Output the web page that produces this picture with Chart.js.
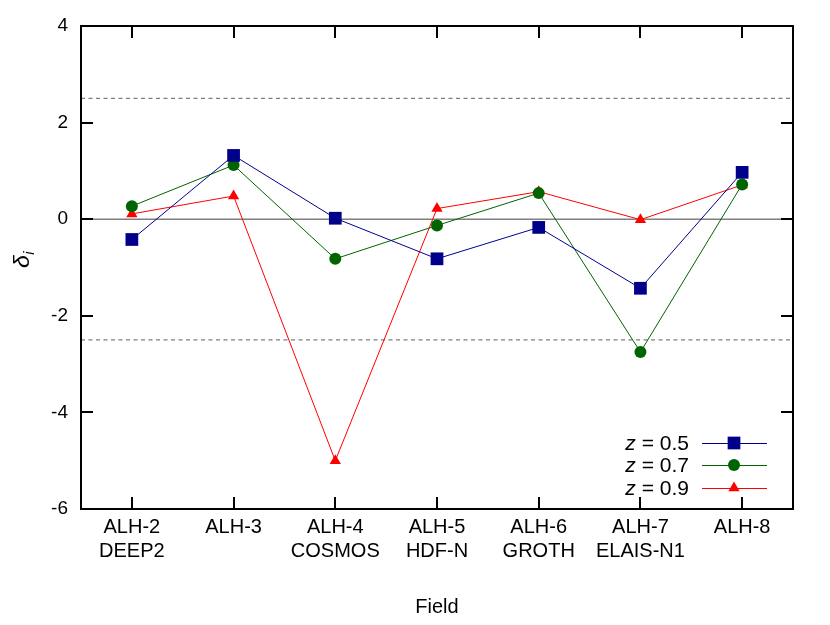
<!DOCTYPE html>
<html><head><meta charset="utf-8">
<script src="https://cdn.jsdelivr.net/npm/chart.js@4"></script>
<style>html,body{margin:0;padding:0;background:#fff}#wrap{width:830px;height:625px}</style>
</head><body><div id="wrap"><canvas id="c" width="830" height="625"></canvas></div>
<script>
const categories = [['ALH-2','DEEP2'],['ALH-3'],['ALH-4','COSMOS'],['ALH-5','HDF-N'],['ALH-6','GROTH'],['ALH-7','ELAIS-N1'],['ALH-8']];
const z05 = [-0.42, 1.32, 0.02, -0.82, -0.17, -1.43, 0.97];
const z07 = [0.27, 1.12, -0.82, -0.13, 0.54, -2.75, 0.72];
const z09 = [0.11, 0.48, -5.0, 0.22, 0.57, -0.01, 0.71];
const seriesLabels = ['0.5', '0.7', '0.9'];
const yTicks = [-6, -4, -2, 0, 2, 4];
const refLines = [2.5, -2.5];
const zeroLine = 0;

const FONT = "'Liberation Sans', Arial, sans-serif";

function drawMarker(ctx, style, x, y, r, color) {
  ctx.save();
  ctx.fillStyle = color;
  ctx.beginPath();
  if (style === 'rect') {
    const s = Math.SQRT1_2 * r;
    ctx.rect(x - s, y - s, 2 * s, 2 * s);
  } else if (style === 'circle') {
    ctx.arc(x, y, r, 0, Math.PI * 2);
  } else if (style === 'triangle') {
    let a = 0;
    ctx.moveTo(x + Math.sin(a) * r, y - Math.cos(a) * r);
    a += 2 * Math.PI / 3;
    ctx.lineTo(x + Math.sin(a) * r, y - Math.cos(a) * r);
    a += 2 * Math.PI / 3;
    ctx.lineTo(x + Math.sin(a) * r, y - Math.cos(a) * r);
    ctx.closePath();
  }
  ctx.fill();
  ctx.restore();
}

const framePlugin = {
  id: 'frame',
  beforeDatasetsDraw(chart) {
    const {ctx, chartArea: a, scales: {y}} = chart;
    ctx.save();
    ctx.strokeStyle = '#7f7f7f';
    ctx.lineWidth = 1.5;
    const y0 = y.getPixelForValue(zeroLine);
    ctx.beginPath(); ctx.moveTo(a.left, y0); ctx.lineTo(a.right, y0); ctx.stroke();
    ctx.lineWidth = 1.2;
    ctx.setLineDash([4, 3.5]);
    refLines.forEach(v => {
      const py = y.getPixelForValue(v);
      ctx.beginPath(); ctx.moveTo(a.left, py); ctx.lineTo(a.right, py); ctx.stroke();
    });
    ctx.restore();
  },
  afterDraw(chart) {
    const {ctx, chartArea: a, scales: {x, y}} = chart;
    ctx.save();
    ctx.strokeStyle = '#000';
    ctx.lineWidth = 2;
    const tl = 12;
    y.ticks.forEach(t => {
      const py = Math.round(y.getPixelForValue(t.value));
      ctx.beginPath();
      ctx.moveTo(a.left, py); ctx.lineTo(a.left + tl, py);
      ctx.moveTo(a.right, py); ctx.lineTo(a.right - tl, py);
      ctx.stroke();
    });
    categories.forEach((c, i) => {
      const px = Math.round(x.getPixelForValue(i));
      ctx.beginPath();
      ctx.moveTo(px, a.bottom); ctx.lineTo(px, a.bottom - tl);
      ctx.moveTo(px, a.top); ctx.lineTo(px, a.top + tl);
      ctx.stroke();
    });
    ctx.strokeRect(a.left, a.top, a.right - a.left, a.bottom - a.top);
    ctx.restore();

    // legend
    ctx.save();
    const textRight = a.right - 104;
    const lineL = a.right - 91, lineR = a.right - 26, mk = a.right - 59;
    const rows = [a.bottom - 66, a.bottom - 44, a.bottom - 21];
    chart.data.datasets.forEach((ds, i) => {
      const yy = rows[i];
      ctx.font = '21px ' + FONT;
      const rest = ' = ' + seriesLabels[i];
      const wRest = ctx.measureText(rest).width;
      ctx.font = 'italic 21px ' + FONT;
      const wZ = ctx.measureText('z').width;
      ctx.fillStyle = '#000';
      ctx.textBaseline = 'middle';
      ctx.textAlign = 'left';
      ctx.fillText('z', textRight - wRest - wZ, yy + 1);
      ctx.font = '21px ' + FONT;
      ctx.fillText(rest, textRight - wRest, yy + 1);
      ctx.strokeStyle = ds.borderColor;
      ctx.lineWidth = 1;
      ctx.beginPath(); ctx.moveTo(lineL, yy + 0.5); ctx.lineTo(lineR, yy + 0.5); ctx.stroke();
      drawMarker(ctx, ds.pointStyle, mk, yy, ds.pointRadius, ds.pointBackgroundColor);
    });
    ctx.restore();

    // y axis title: delta_i
    ctx.save();
    ctx.translate(29, 268);
    ctx.rotate(-Math.PI / 2);
    ctx.fillStyle = '#000';
    ctx.textBaseline = 'alphabetic';
    ctx.textAlign = 'left';
    ctx.font = 'italic 23px ' + FONT;
    const wd = ctx.measureText('δ').width;
    ctx.fillText('δ', 0, 0);
    ctx.font = 'italic 15px ' + FONT;
    ctx.fillText('i', wd + 0.5, 5);
    ctx.restore();
  }
};

const mkDs = (label, data, color, style, r) => ({
  label, data,
  borderColor: color, backgroundColor: color,
  pointBackgroundColor: color, pointBorderColor: color,
  borderWidth: 1, pointStyle: style, pointRadius: r, pointBorderWidth: 0,
  pointHoverRadius: r, tension: 0
});

new Chart(document.getElementById('c'), {
  type: 'line',
  data: {
    labels: categories,
    datasets: [
      mkDs('z = 0.5', z05, '#00008b', 'rect', 9),
      mkDs('z = 0.7', z07, '#006400', 'circle', 6),
      mkDs('z = 0.9', z09, '#ff0000', 'triangle', 6.5)
    ]
  },
  options: {
    responsive: false,
    animation: false,
    devicePixelRatio: 1,
    layout: {padding: {left: 0, top: 26, right: 37, bottom: 0}},
    plugins: {legend: {display: false}, tooltip: {enabled: false}},
    scales: {
      x: {
        type: 'category',
        offset: true,
        grid: {display: false, drawTicks: false},
        border: {display: false},
        ticks: {color: '#000', font: {family: FONT, size: 20, lineHeight: 1.2}, padding: 6, maxRotation: 0, autoSkip: false},
        title: {display: true, text: 'Field', color: '#000', font: {family: FONT, size: 20}, padding: {top: 0, bottom: 6}},
        afterFit(s) { s.height = 116; }
      },
      y: {
        min: -6, max: 4,
        grid: {display: false, drawTicks: false},
        border: {display: false},
        afterBuildTicks(s) { s.ticks = yTicks.map(v => ({value: v})); },
        ticks: {color: '#000', font: {family: FONT, size: 19}, padding: 13},
        afterFit(s) { s.width = 81; }
      }
    }
  },
  plugins: [framePlugin]
});
</script>
</body></html>
